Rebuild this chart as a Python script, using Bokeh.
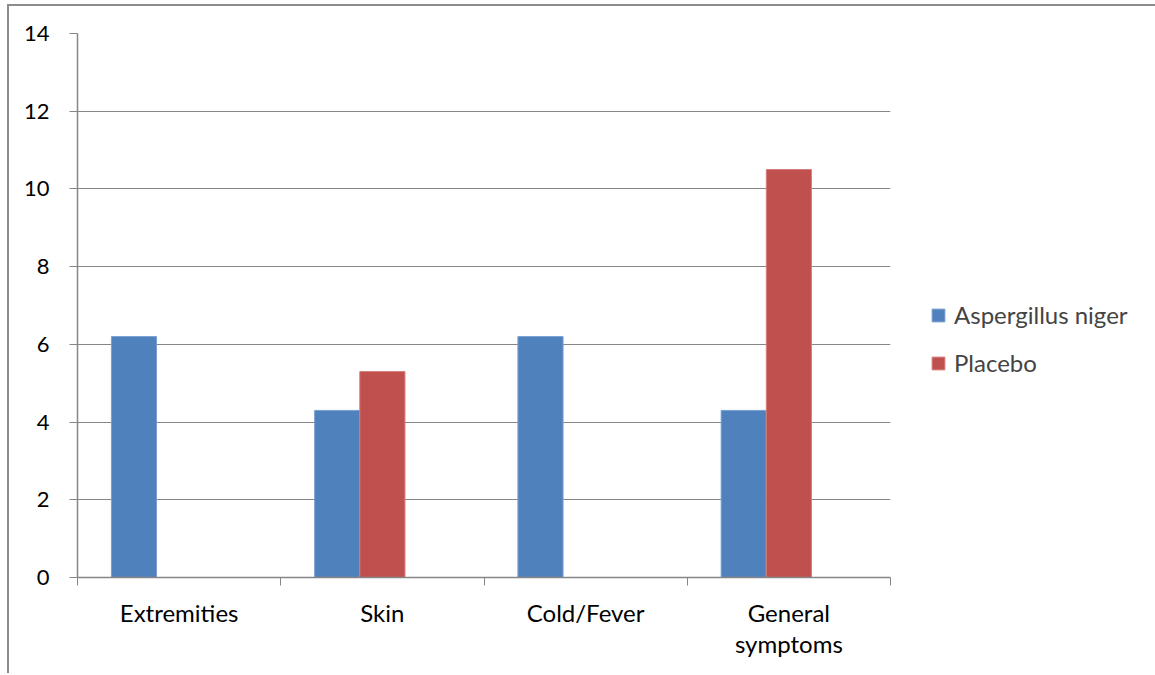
from bokeh.plotting import figure
from bokeh.models import (ColumnDataSource, FixedTicker, Legend, LegendItem)
from bokeh.embed import file_html
from bokeh.resources import INLINE

categories = ["Extremities", "Skin", "Cold/Fever", "General\nsymptoms"]
aspergillus = [6.2, 4.3, 6.2, 4.3]
placebo = [0, 5.3, 0, 10.5]
y_ticks = [0, 2, 4, 6, 8, 10, 12, 14]

FONT = "Lato"
GRID = "#868686"
BLUE = "#4F81BD"
RED = "#C0504D"

n = len(categories)
centers = [i + 0.5 for i in range(n)]
bw = 45.2 / 203.5

p = figure(frame_width=813, frame_height=544, x_range=(0, n), y_range=(0, 14),
           output_backend="svg", toolbar_location=None,
           min_border_left=68, min_border_top=27, min_border_right=262,
           min_border_bottom=96)
p.outline_line_color = None
p.styles = {"border-left": "2px solid #8c8c8c", "border-top": "2px solid #8c8c8c",
            "margin-left": "7px", "margin-top": "4px"}

src = ColumnDataSource(dict(
    x_a=[c - bw for c in centers], x_p=[c for c in centers],
    a=aspergillus, pl=placebo))

r1 = p.vbar(x="x_a", top="a", width=bw, source=src, fill_color=BLUE,
            line_color="#7a9fd0", line_width=1)
r2 = p.vbar(x="x_p", top="pl", width=bw, source=src, fill_color=RED,
            line_color="#d47e7c", line_width=1)

p.xaxis.ticker = FixedTicker(ticks=centers, minor_ticks=list(range(n + 1)))
p.xaxis.major_label_overrides = {c: lab for c, lab in zip(centers, categories)}
p.xaxis.major_tick_line_color = None
p.xaxis.minor_tick_out = 8
p.xaxis.minor_tick_in = 0
p.xaxis.minor_tick_line_color = GRID
p.xaxis.axis_line_color = GRID
p.xaxis.axis_line_width = 1.5
p.xaxis.major_label_text_font = FONT
p.xaxis.major_label_text_font_size = "24px"
p.xaxis.major_label_text_line_height = 1.08
p.xaxis.major_label_text_color = "#000000"
p.xaxis.major_label_standoff = 12

p.yaxis.ticker = FixedTicker(ticks=y_ticks)
p.yaxis.minor_tick_line_color = None
p.yaxis.major_tick_out = 8
p.yaxis.major_tick_in = 0
p.yaxis.major_tick_line_color = GRID
p.yaxis.axis_line_color = GRID
p.yaxis.axis_line_width = 1.5
p.yaxis.major_label_text_font = FONT
p.yaxis.major_label_text_font_size = "22px"
p.yaxis.major_label_text_color = "#000000"
p.yaxis.major_label_standoff = 20

p.xgrid.grid_line_color = None
p.ygrid.ticker = FixedTicker(ticks=y_ticks)
p.ygrid.grid_line_color = GRID
p.ygrid.grid_line_width = 1.2

legend = Legend(items=[LegendItem(label="Aspergillus niger", renderers=[r1]),
                       LegendItem(label="Placebo", renderers=[r2])],
                location=(40, 200), border_line_color=None,
                background_fill_alpha=0, label_text_font=FONT,
                label_text_font_size="24px", glyph_width=16, glyph_height=16,
                spacing=19, label_standoff=8)
p.add_layout(legend, "right")

open("out.html", "w").write(file_html(p, INLINE))
